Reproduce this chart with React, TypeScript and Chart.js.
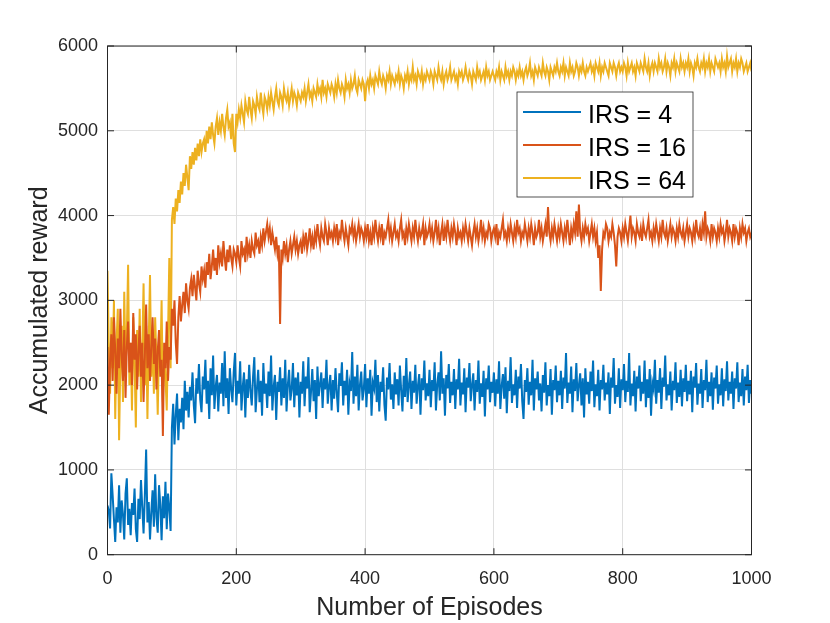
import { useEffect, useRef } from "react";
import { Chart, registerables } from "chart.js";

Chart.register(...registerables);

// one sample every 2 episodes, 0..1000 (rows of 25 = 50 episodes)
const EPISODE_STEP = 2;

const IRS4 = [
  580, 520, 310, 960, 700, 420, 150, 560, 380, 820, 260, 640, 480, 180, 720, 900, 350, 540, 230, 610, 470, 780, 300, 150, 660,
  420, 880, 560, 250, 700, 1240, 380, 620, 180, 500, 760, 330, 950, 440, 260, 820, 590, 170, 690, 430, 860, 300, 720, 550, 280,
  1500, 1780, 1300, 1650, 1900, 1350, 1720, 1560, 1850, 1480, 2050, 1700, 1920, 1620, 1980, 1820, 2150, 1760, 1550, 2080, 1900, 2250, 1830, 1680, 2100,
  1950, 2300, 1780, 2050, 1600, 2200, 1880, 2350, 1720, 1980, 2120, 1690, 2030, 1900, 2260, 1750, 2400, 1850, 2080, 1660, 2200, 1960, 1800, 2150, 2380,
  1760, 2050, 1900, 2280, 1700, 1980, 2150, 1620, 2070, 1850, 2240, 1930, 1760, 2100, 2330, 1680, 1950, 2180, 1800, 2050, 1640, 2260, 1900, 2020, 1730,
  2160, 1870, 2350, 1700, 1980, 2120, 1590, 2040, 1920, 2210, 1760, 2080, 1850, 2300, 1690, 2000, 2180, 1820, 1950, 2260, 1740, 2090, 1880, 2150, 1620,
  2040, 1900, 2280, 1750, 2100, 1960, 2330, 1680, 1920, 2190, 1810, 2060, 1600, 2220, 1870, 2010, 2150, 1730, 2080, 1950, 2300, 1780, 1990, 2120, 1700,
  2060, 1840, 2200, 1910, 1680, 2140, 1990, 2270, 1760, 2050, 1880, 2180, 1650, 2020, 1930, 2390, 1780, 2100, 1870, 2240, 1700, 2000, 2160, 1820, 1950,
  2250, 1740, 2080, 1900, 2180, 1640, 2030, 1960, 2300, 1800, 2120, 1690, 2040, 1920, 2210, 1770, 1580, 2090, 1950, 2260, 1830, 2010, 1720, 2150, 1890,
  2070, 1760, 2230, 1940, 1690, 2110, 1860, 2320, 1800, 2000, 2160, 1720, 2050, 1910, 2240, 1780, 1990, 2130, 1650, 2080, 1940, 2290, 1820, 2020, 1870,
  2180, 1740, 2060, 1930, 2270, 1700, 2010, 2150, 1820, 2400, 1900, 2080, 1640, 2120, 1960, 2250, 1790, 2040, 1880, 2190, 1720, 2070, 1950, 2310, 1760,
  2030, 1890, 2200, 1680, 2090, 1970, 2260, 1810, 2000, 2140, 1700, 2060, 1920, 2290, 1780, 2020, 1860, 2170, 1630, 2080, 1950, 2230, 1800, 2040, 1910,
  2150, 1750, 2070, 1900, 2280, 1720, 1990, 2130, 1840, 2210, 1670, 2050, 1930, 2330, 1790, 2010, 1880, 2180, 1730, 2100, 1960, 2250, 1810, 1600, 2060,
  1920, 2200, 1770, 2040, 1880, 2300, 1700, 2080, 1950, 2160, 1820, 2020, 1690, 2120, 1910, 2270, 1760, 2000, 1870, 2190, 1650, 2060, 1940, 2230, 1800,
  2050, 1880, 2170, 1720, 2090, 1960, 2380, 1790, 2030, 1900, 2220, 1680, 2070, 1930, 2260, 1810, 2000, 2140, 1760, 2080, 1620, 2200, 1890, 2040, 1780,
  2160, 1930, 2290, 1740, 2010, 1870, 2180, 1700, 2060, 1950, 2240, 1820, 2030, 1890, 2150, 1660, 2090, 1970, 2320, 1780, 2000, 1860, 2200, 1730, 2070,
  1940, 2250, 1800, 2050, 1920, 2380, 1760, 2020, 1870, 2170, 1690, 2100, 1960, 2230, 1810, 2040, 1900, 2290, 1740, 2070, 1850, 2190, 1640, 2030, 1950,
  2300, 1780, 2060, 1910, 2200, 1720, 2090, 1980, 2350, 1820, 2010, 1880, 2160, 1700, 2050, 1940, 2270, 1790, 2030, 1860, 2180, 1750, 2080, 1920, 2240,
  1810, 2050, 1890, 2170, 1680, 2100, 1970, 2260, 1770, 2020, 1900, 2190, 1730, 2060, 1940, 2300, 1800, 2040, 1870, 2150, 1710, 2090, 1960, 2230, 1780,
  2010, 1880, 2200, 1750, 2070, 1930, 2280, 1820, 2040, 1900, 2160, 1720, 2080, 1960, 2270, 1800, 2030, 1870, 2190, 1760, 2100, 1940, 2240, 1790, 2060,
  1900,
];

const IRS16 = [
  2450, 1650, 2300, 2600, 2050, 2800, 2400, 1900, 2550, 2200, 2900, 2350, 2050, 2650, 1850, 2450, 2750, 2150, 2500, 2000, 2850, 2300, 2600, 1950, 2400,
  2700, 2100, 2500, 1800, 2350, 2950, 2200, 2600, 2050, 2450, 2800, 2250, 2550, 1950, 2400, 2650, 2100, 2300, 1400, 2500, 2200, 2750, 2050, 2450, 2300,
  2900, 2700, 3000, 2500, 2250, 2800, 3050, 2750, 2950, 3100, 2850, 3200, 3000, 2900, 3150, 3250, 3050, 3300, 3150, 3000, 3350, 3200, 3100, 3400, 3250,
  3350, 3150, 3450, 3300, 3550, 3250, 3400, 3600, 3350, 3500, 3300, 3650, 3450, 3550, 3400, 3700, 3500, 3350, 3600, 3450, 3650, 3500, 3400, 3600, 3550,
  3450, 3650, 3500, 3400, 3700, 3550, 3600, 3450, 3750, 3550, 3650, 3500, 3700, 3600, 3550, 3800, 3650, 3700, 3550, 3750, 3650, 3850, 3700, 3800, 3900,
  3750, 3850, 3650, 3800, 3700, 3600, 3750, 3550, 3650, 2720, 3600, 3500, 3700, 3550, 3650, 3450, 3600, 3700, 3550, 3650, 3750, 3600, 3700, 3550, 3650,
  3700, 3550, 3750, 3650, 3800, 3600, 3700, 3850, 3650, 3750, 3600, 3800, 3700, 3900, 3750, 3650, 3850, 3750, 3700, 3900, 3800, 3650, 3850, 3750, 3800,
  3700, 3850, 3750, 3900, 3650, 3800, 3750, 3950, 3800, 3700, 3850, 3750, 3650, 3850, 3800, 3900, 3750, 3850, 3700, 3800, 3900, 3750, 3850, 3800, 3700,
  3850, 3750, 3900, 3700, 3800, 3650, 3850, 3750, 3950, 3800, 3700, 3850, 3750, 3900, 3650, 3800, 3750, 3850, 3950, 3750, 3850, 3700, 3800, 3900, 3750,
  3800, 3700, 3850, 3950, 3750, 3800, 3650, 3850, 3750, 3900, 3800, 3700, 3850, 3750, 3950, 3800, 3700, 3850, 3750, 3800, 3900, 3650, 3850, 3750, 3800,
  3900, 3750, 3850, 3700, 3800, 3950, 3750, 3850, 3650, 3800, 3900, 3700, 3850, 3750, 3950, 3800, 3700, 3850, 3750, 3900, 3800, 3650, 3850, 3750, 3800,
  3700, 3850, 3750, 3900, 3800, 3700, 3850, 3750, 3650, 3800, 3900, 3750, 3850, 3700, 3800, 3950, 3750, 3850, 3700, 3800, 3750, 3900, 3850, 3700, 3800,
  3850, 3750, 3900, 3650, 3800, 3750, 3850, 3950, 3750, 3800, 3700, 3850, 3750, 3900, 3800, 3700, 3850, 3750, 3950, 3800, 3850, 3700, 3800, 3750, 3900,
  3800, 3700, 3850, 3750, 3900, 3800, 3650, 3850, 3750, 3800, 3950, 3750, 3850, 3700, 3800, 3900, 3750, 4100, 3800, 3700, 3850, 3750, 3900, 3800, 3700,
  3850, 3750, 3900, 3800, 3700, 3850, 3750, 3950, 3800, 3650, 3850, 3750, 3900, 3800, 4050, 3750, 4130, 3800, 3700, 3850, 3750, 3900, 3800, 3850, 3700,
  3800, 3900, 3750, 3850, 3700, 3800, 3500, 3650, 3110, 3600, 3800, 3750, 3900, 3850, 3700, 3800, 3750, 3900, 3800, 3650, 3400, 3750, 3850, 3800, 3700,
  3850, 3750, 3900, 3800, 3700, 3850, 4000, 3750, 3850, 3800, 3700, 3900, 3800, 3750, 3850, 3700, 3900, 3800, 3750, 3850, 3950, 3750, 3800, 3700, 3850,
  3750, 3900, 3800, 3700, 3850, 3750, 3950, 3800, 3750, 3850, 3700, 3800, 3900, 3750, 3850, 3800, 3700, 3850, 3750, 3900, 3800, 3750, 3850, 3700, 3800,
  3900, 3750, 3850, 3800, 3700, 3850, 3750, 3950, 3800, 3750, 3850, 3700, 3900, 3800, 4050, 3750, 3850, 3800, 3700, 3900, 3750, 3850, 3800, 3700, 3850,
  3750, 3900, 3800, 3850, 3700, 3800, 3950, 3750, 3850, 3800, 3700, 3900, 3750, 3850, 3800, 3650, 3850, 3750, 3900, 3800, 3850, 3700, 3800, 3850, 3750,
  3800,
];

const IRS64 = [
  3350, 2450, 1900, 2800, 2200, 3000, 1600, 2500, 2900, 1350, 2300, 2700, 1800, 3100, 2200, 2600, 3420, 2000, 2500, 1700, 2800, 2300, 1500, 2650, 2100,
  2900, 1800, 2400, 3200, 2000, 2700, 1600, 2500, 3300, 2100, 2600, 1900, 2800, 2300, 1650, 2500, 2200, 3000, 1800, 2400, 2100, 1700, 2600, 3500, 2200,
  3950, 4100, 3900, 4200, 4050, 4300, 4150, 4400, 4250, 4500, 4350, 4600, 4450, 4300, 4700, 4550, 4750, 4600, 4800, 4650, 4850, 4700, 4900, 4750, 4850,
  4900, 4750, 5000, 4850, 5050, 4900, 5100, 4950, 4850, 5050, 5150, 4950, 5100, 5000, 5200, 5050, 4950, 5150, 5250, 5050, 5100, 4900, 5200, 4850, 4750,
  5200, 5100, 5250, 5150, 5300, 5200, 5100, 5350, 5250, 5200, 5400, 5250, 5150, 5350, 5300, 5200, 5400, 5300, 5250, 5450, 5300, 5200, 5400, 5350, 5250,
  5400, 5300, 5450, 5350, 5250, 5400, 5500, 5350, 5300, 5450, 5400, 5300, 5500, 5400, 5350, 5450, 5300, 5400, 5500, 5350, 5450, 5400, 5300, 5450, 5400,
  5350, 5450, 5400, 5500, 5350, 5450, 5550, 5400, 5450, 5350, 5500, 5450, 5400, 5550, 5450, 5500, 5400, 5600, 5450, 5500, 5400, 5550, 5500, 5450, 5550,
  5500, 5400, 5550, 5450, 5600, 5500, 5450, 5550, 5500, 5400, 5600, 5500, 5550, 5450, 5600, 5500, 5550, 5650, 5500, 5450, 5600, 5550, 5500, 5600, 5550,
  5350, 5550, 5600, 5500, 5650, 5550, 5600, 5500, 5650, 5600, 5550, 5700, 5600, 5550, 5650, 5600, 5500, 5650, 5600, 5700, 5550, 5650, 5600, 5550, 5650,
  5600, 5700, 5550, 5650, 5600, 5500, 5650, 5600, 5700, 5550, 5650, 5600, 5750, 5600, 5650, 5550, 5700, 5650, 5600, 5700, 5550, 5650, 5600, 5700, 5650,
  5600, 5700, 5650, 5550, 5700, 5650, 5600, 5750, 5650, 5600, 5700, 5550, 5650, 5700, 5600, 5650, 5750, 5600, 5650, 5700, 5600, 5650, 5550, 5700, 5650,
  5700, 5600, 5650, 5750, 5650, 5600, 5700, 5650, 5550, 5700, 5650, 5600, 5750, 5650, 5700, 5600, 5650, 5700, 5600, 5750, 5650, 5700, 5600, 5650, 5700,
  5650, 5600, 5700, 5650, 5750, 5600, 5700, 5650, 5600, 5750, 5650, 5700, 5600, 5700, 5650, 5750, 5700, 5600, 5700, 5650, 5750, 5650, 5700, 5600, 5700,
  5750, 5650, 5700, 5800, 5650, 5700, 5600, 5750, 5700, 5650, 5750, 5700, 5650, 5800, 5700, 5650, 5750, 5700, 5600, 5750, 5700, 5650, 5750, 5700, 5800,
  5700, 5650, 5750, 5700, 5800, 5650, 5750, 5700, 5650, 5800, 5700, 5750, 5650, 5700, 5800, 5750, 5650, 5750, 5700, 5800, 5700, 5650, 5750, 5700, 5750,
  5800, 5700, 5750, 5650, 5800, 5750, 5700, 5800, 5650, 5750, 5700, 5800, 5750, 5700, 5650, 5800, 5750, 5700, 5800, 5750, 5650, 5750, 5800, 5700, 5750,
  5700, 5800, 5750, 5650, 5800, 5700, 5750, 5800, 5700, 5750, 5650, 5800, 5750, 5700, 5800, 5750, 5700, 5850, 5750, 5700, 5800, 5650, 5750, 5800, 5700,
  5800, 5750, 5700, 5850, 5750, 5800, 5700, 5750, 5850, 5700, 5800, 5750, 5650, 5800, 5750, 5850, 5700, 5800, 5750, 5700, 5850, 5750, 5800, 5700, 5800,
  5750, 5850, 5700, 5800, 5750, 5650, 5800, 5750, 5850, 5750, 5700, 5800, 5750, 5850, 5700, 5800, 5750, 5850, 5700, 5800, 5750, 5700, 5850, 5800, 5750,
  5800, 5700, 5850, 5750, 5800, 5700, 5880, 5750, 5800, 5850, 5700, 5800, 5750, 5850, 5700, 5800, 5750, 5850, 5800, 5700, 5750, 5800, 5700, 5750, 5800,
  5700,
];

const SERIES = [IRS4, IRS16, IRS64];
const LABELS = ["IRS = 4", "IRS = 16", "IRS = 64"];
const COLORS = ["#0072BD", "#D95319", "#EDB120"];
const X_TICKS = [0, 200, 400, 600, 800, 1000];
const Y_TICKS = [0, 1000, 2000, 3000, 4000, 5000, 6000];

const FONT = "'Liberation Sans', Arial, Helvetica, sans-serif";
const AXIS_COLOR = "#262626";

// MATLAB-ish box: frame, inward ticks on all sides, legend inside the axes
const boxPlugin = {
  id: "matlabBox",
  afterDatasetsDraw(chart: any) {
    const { ctx, chartArea: a, scales } = chart;
    ctx.save();
    ctx.strokeStyle = AXIS_COLOR;
    ctx.lineWidth = 1;
    ctx.strokeRect(a.left, a.top, a.right - a.left, a.bottom - a.top);
    const tl = 6.5;
    ctx.beginPath();
    X_TICKS.forEach((v) => {
      const px = scales.x.getPixelForValue(v);
      ctx.moveTo(px, a.bottom);
      ctx.lineTo(px, a.bottom - tl);
      ctx.moveTo(px, a.top);
      ctx.lineTo(px, a.top + tl);
    });
    Y_TICKS.forEach((v) => {
      const py = scales.y.getPixelForValue(v);
      ctx.moveTo(a.left, py);
      ctx.lineTo(a.left + tl, py);
      ctx.moveTo(a.right, py);
      ctx.lineTo(a.right - tl, py);
    });
    ctx.stroke();

    // legend
    const bx = 517, by = 92, bw = 176, bh = 105;
    ctx.fillStyle = "#ffffff";
    ctx.fillRect(bx, by, bw, bh);
    ctx.lineWidth = 0.8;
    ctx.strokeStyle = AXIS_COLOR;
    ctx.strokeRect(bx, by, bw, bh);
    ctx.font = `25px ${FONT}`;
    ctx.textBaseline = "alphabetic";
    ctx.textAlign = "left";
    LABELS.forEach((label, i) => {
      const ly = 112 + i * 33;
      ctx.strokeStyle = COLORS[i];
      ctx.lineWidth = 2;
      ctx.beginPath();
      ctx.moveTo(523, ly);
      ctx.lineTo(581, ly);
      ctx.stroke();
      ctx.fillStyle = "#000000";
      ctx.fillText(label, 588, ly + 10.8);
    });
    ctx.restore();
  },
};

export default function App() {
  const ref = useRef<HTMLCanvasElement | null>(null);

  useEffect(() => {
    if (!ref.current) return;
    const chart = new Chart(ref.current, {
      type: "line",
      data: {
        datasets: SERIES.map((values, i) => ({
          label: LABELS[i],
          data: values.map((y, k) => ({ x: k * EPISODE_STEP, y })),
          borderColor: COLORS[i],
          borderWidth: 2,
          pointRadius: 0,
          tension: 0,
          fill: false,
        })),
      },
      options: {
        animation: false,
        responsive: true,
        maintainAspectRatio: false,
        layout: { padding: { top: 46, right: 78.5, bottom: 0, left: 0 } },
        plugins: { legend: { display: false }, tooltip: { enabled: false } },
        scales: {
          x: {
            type: "linear",
            min: 0,
            max: 1000,
            afterFit: (s: any) => {
              s.height = 68.3;
            },
            ticks: {
              stepSize: 200,
              padding: 14,
              color: AXIS_COLOR,
              font: { family: FONT, size: 18 },
              callback: (v: any) => String(v),
            },
            grid: { color: "#dfdfdf", drawTicks: false },
            border: { display: false },
            title: {
              display: true,
              text: "Number of Episodes",
              color: AXIS_COLOR,
              font: { family: FONT, size: 25 },
              padding: { top: 0, bottom: 0 },
            },
          },
          y: {
            min: 0,
            max: 6000,
            afterFit: (s: any) => {
              s.width = 107.5;
            },
            ticks: {
              stepSize: 1000,
              padding: 9.5,
              color: AXIS_COLOR,
              font: { family: FONT, size: 18 },
              callback: (v: any) => String(v),
            },
            grid: { color: "#dfdfdf", drawTicks: false },
            border: { display: false },
            title: {
              display: true,
              text: "Accumulated reward",
              color: AXIS_COLOR,
              font: { family: FONT, size: 25 },
              padding: { top: 25, bottom: 0 },
            },
          },
        },
      },
      plugins: [boxPlugin],
    });
    return () => chart.destroy();
  }, []);

  return (
    <div style={{ position: "fixed", left: 0, top: 0, width: 830, height: 623, background: "#ffffff" }}>
      <canvas ref={ref}></canvas>
    </div>
  );
}
